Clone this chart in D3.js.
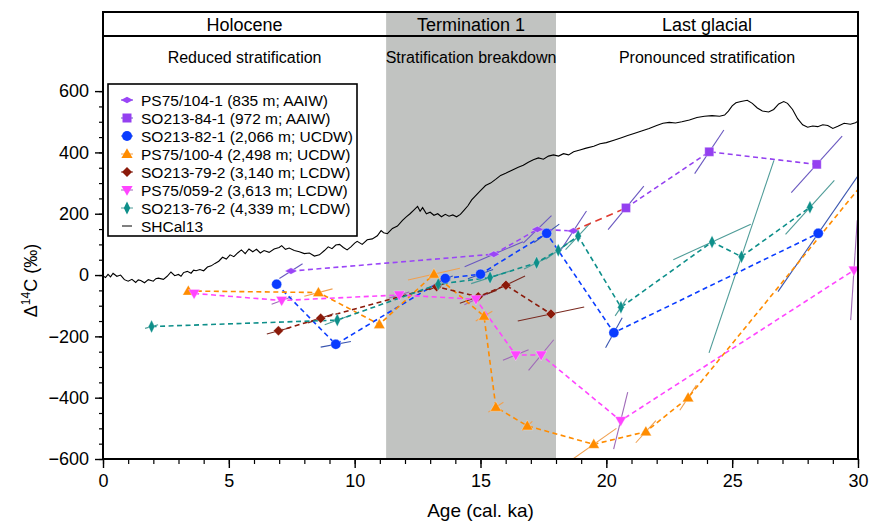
<!DOCTYPE html>
<html>
<head>
<meta charset="utf-8">
<script src="https://cdn.jsdelivr.net/npm/d3@7/dist/d3.min.js"></script>
<style>
  body { margin: 0; background: #fff; }
  text { font-family: "Liberation Sans", Arial, Helvetica, sans-serif; fill: #000; }
</style>
</head>
<body>
<svg id="chart" width="869" height="521"></svg>
<script>
// ---- data ----
var periodNames = ["Holocene", "Termination 1", "Last glacial"];
var periodBounds = [0, 11.25, 18, 30];
var regimeNames = ["Reduced stratification", "Stratification breakdown", "Pronounced stratification"];

var xTicks = [0, 5, 10, 15, 20, 25, 30];
var yTicks = [-600, -400, -200, 0, 200, 400, 600];

// PS75/104-1
var age104 = [7.47, 15.53, 17.26, 18.69];
var d104 = [13, 68, 149, 144];
var ea104 = [0.46, 1.16, 0.56, 0.52];
var ed104 = [24, 41, 45, 65];
// SO213-84-1
var age84 = [20.78, 24.09, 28.36];
var d84 = [219, 402, 361];
var ea84 = [0.71, 0.58, 1.01];
var ed84 = [71, 71, 92];
// SO213-82-1
var age82 = [6.9, 9.25, 13.6, 15.0, 17.63, 20.3, 28.42];
var d82 = [-30, -226, -11, 3, 136, -188, 136];
var ea82 = [0.1, 0.6, 0.3, 0.5, 0.5, 0.33, 1.6];
var ed82 = [5, 9, 8, 15, 30, 49, 190];
// PS75/100-4
var age1004 = [3.39, 8.56, 10.98, 13.15, 15.14, 15.61, 16.86, 19.5, 21.57, 23.25, 31.0];
var d1004 = [-52, -57, -161, 3, -134, -431, -492, -552, -511, -400, 380];
var ea1004 = [0.05, 0.56, 0.1, 1.03, 0.33, 0.3, 0.2, 0.9, 0.4, 0.33, 0.5];
var ed1004 = [3, 12, 5, 19, 16, 16, 15, 52, 36, 41, 40];
// SO213-79-2
var age792 = [6.97, 8.65, 13.26, 14.91, 16.01, 17.8];
var d792 = [-182, -141, -38, -71, -33, -127];
var ea792 = [0.46, 0.5, 0.3, 0.73, 0.76, 1.32];
var ed792 = [10, 15, 10, 21, 30, 23];
// PS75/059-2
var age059 = [3.62, 7.1, 11.77, 14.82, 16.4, 17.41, 20.57, 29.84];
var d059 = [-60, -83, -65, -79, -261, -261, -475, 16];
var ea059 = [0.1, 0.4, 0.4, 0.46, 0.51, 0.5, 0.28, 0.13];
var ed059 = [4, 12, 10, 18, 17, 50, 93, 163];
// SO213-76-2
var age762 = [1.93, 9.31, 13.32, 15.38, 17.23, 18.09, 18.88, 20.58, 24.2, 25.37, 28.09];
var d762 = [-168, -147, -30, -8, 40, 81, 127, -105, 108, 60, 221];
var ea762 = [0.26, 0.5, 0.5, 0.75, 0.5, 0.5, 0.5, 0.23, 1.54, 1.29, 0.97];
var ed762 = [6, 15, 15, 20, 20, 30, 44, 28, 58, 314, 88];

// SHCal13 atmosphere
var shAge = [0, 0.1, 0.2, 0.3, 0.4, 0.55, 0.7, 0.85, 1.0, 1.15, 1.3, 1.4, 1.5, 1.65, 1.8, 2.0, 2.1, 2.2, 2.4, 2.55, 2.7, 2.85,
  3.0, 3.1, 3.2, 3.35, 3.5, 3.6, 3.7, 3.85, 4.0, 4.15, 4.3, 4.45, 4.6, 4.75, 4.9, 5.05, 5.2, 5.35, 5.5, 5.65, 5.8,
  5.95, 6.1, 6.25, 6.4, 6.6, 6.8, 7.0, 7.1, 7.25, 7.4, 7.6, 7.8, 8.0, 8.2, 8.4, 8.6, 8.8, 8.95, 9.1,
  9.25, 9.4, 9.55, 9.7, 9.85, 10.0, 10.1, 10.3, 10.5, 10.7, 10.9, 11.05, 11.15, 11.3, 11.5, 11.7, 11.9,
  12.05, 12.2, 12.35, 12.5, 12.6, 12.7, 12.85, 13.0, 13.15, 13.3, 13.45, 13.6, 13.75, 13.9, 14.05, 14.2,
  14.35, 14.5, 14.65, 14.8, 15.0, 15.2, 15.4, 15.6, 15.8, 16.0, 16.25, 16.5, 16.7, 16.9, 17.1, 17.3,
  17.5, 17.7, 17.9, 18.1, 18.3, 18.5, 18.7, 18.95, 19.2, 19.5, 19.75, 20.0, 20.3, 20.6, 20.85, 21.1,
  21.4, 21.7, 22.0, 22.25, 22.5, 22.75, 23.0, 23.3, 23.6, 23.9, 24.2, 24.5, 24.7, 24.85, 25.0, 25.15,
  25.35, 25.6, 25.8, 26.0, 26.2, 26.45, 26.65, 26.85, 27.05, 27.2, 27.4, 27.6, 27.8, 28.0, 28.2, 28.4,
  28.6, 28.8, 29.0, 29.2, 29.45, 29.7, 29.9, 30.0];
var shD = [-3, -8, 2, -6, 6, -4, 0, -15, -20, -14, -24, -16, -18, -25, -15, -20, -12, -10, -14, -4, 10, -2,
  2, -4, 8, 12, 6, 16, 14, 18, 14, 26, 30, 38, 45, 58, 52, 66, 60, 72, 82, 70, 85,
  76, 84, 72, 80, 74, 85, 90, 96, 84, 88, 80, 76, 70, 72, 62, 66, 80, 92, 86,
  98, 100, 90, 82, 92, 104, 110, 100, 115, 118, 128, 145, 138, 135, 152, 160, 178,
  190, 200, 212, 224, 208, 220, 200, 205, 195, 200, 190, 198, 192, 196, 190, 198,
  212, 226, 245, 258, 275, 292, 300, 312, 325, 332, 342, 352, 358, 368, 376, 382,
  378, 388, 392, 388, 396, 392, 402, 408, 414, 420, 428, 432, 440, 448, 455, 462,
  470, 478, 488, 495, 498, 496, 500, 506, 514, 518, 520, 518, 522, 535, 552, 562,
  566, 570, 560, 545, 535, 532, 540, 558, 566, 560, 540, 510, 490, 482, 486, 484,
  490, 488, 478, 485, 495, 492, 497, 502];

var seriesNames = ["PS75/104-1 (835 m; AAIW)", "SO213-84-1 (972 m; AAIW)", "SO213-82-1 (2,066 m; UCDW)",
  "PS75/100-4 (2,498 m; UCDW)", "SO213-79-2 (3,140 m; LCDW)", "PS75/059-2 (3,613 m; LCDW)",
  "SO213-76-2 (4,339 m; LCDW)"];

// ---- styles ----
var colors = ["#9a45f7", "#9440f0", "#0a3cff", "#ff8c00", "#8b1a0a", "#ff45ff", "#0e8f8a"];
var errColors = ["#6a58c0", "#6a58c0", "#3a56b0", "#f0a050", "#7a2a20", "#a06ab8", "#4f9c98"];
var shapes = ["wdiamond", "square", "circle", "tri", "diamond", "tridown", "tdiamond"];

var series = [
  {a: age104, d: d104, ea: ea104, ed: ed104},
  {a: age84, d: d84, ea: ea84, ed: ed84},
  {a: age82, d: d82, ea: ea82, ed: ed82},
  {a: age1004, d: d1004, ea: ea1004, ed: ed1004},
  {a: age792, d: d792, ea: ea792, ed: ed792},
  {a: age059, d: d059, ea: ea059, ed: ed059},
  {a: age762, d: d762, ea: ea762, ed: ed762}
];

var svg = d3.select("#chart");
var L = 103, R = 858, T = 12, B = 459, headerY = 36;

var x = d3.scaleLinear().domain([0, 30]).range([L, R]);
var y = d3.scaleLinear().domain([-600, 858]).range([B, T]);

svg.append("defs").append("clipPath").attr("id", "plotclip")
  .append("rect").attr("x", L).attr("y", T).attr("width", R - L).attr("height", B - T);

// grey Termination band
svg.append("rect")
  .attr("x", x(periodBounds[1])).attr("y", T)
  .attr("width", x(periodBounds[2]) - x(periodBounds[1]))
  .attr("height", B - T)
  .attr("fill", "#c1c3c1");

var plot = svg.append("g").attr("clip-path", "url(#plotclip)");

// SHCal13
var line = d3.line().x(function(d){ return x(d[0]); }).y(function(d){ return y(d[1]); });
plot.append("path")
  .datum(d3.zip(shAge, shD))
  .attr("d", line)
  .attr("fill", "none")
  .attr("stroke", "#000")
  .attr("stroke-width", 1.1);

// error bars (calendar age uncertainty drawn as slanted lines)
series.forEach(function(s, k){
  s.a.forEach(function(a, i){
    plot.append("line")
      .attr("x1", x(a - s.ea[i])).attr("y1", y(s.d[i] - s.ed[i]))
      .attr("x2", x(a + s.ea[i])).attr("y2", y(s.d[i] + s.ed[i]))
      .attr("stroke", errColors[k])
      .attr("stroke-width", 1.1);
  });
});

// dashed connecting lines
series.forEach(function(s, k){
  plot.append("path")
    .datum(d3.zip(s.a, s.d))
    .attr("d", line)
    .attr("fill", "none")
    .attr("stroke", colors[k])
    .attr("stroke-width", 1.6)
    .attr("stroke-dasharray", "5,3.5");
});

// link between the two AAIW cores
plot.append("path")
  .datum([[age104[age104.length - 1], d104[d104.length - 1]], [age84[0], d84[0]]])
  .attr("d", line)
  .attr("fill", "none")
  .attr("stroke", "#e03a30")
  .attr("stroke-width", 1.6)
  .attr("stroke-dasharray", "7,5");

function markerPath(type){
  switch(type){
    case "wdiamond": return "M-6,0L0,-3.2L6,0L0,3.2Z";
    case "square": return "M-4.5,-4.5H4.5V4.5H-4.5Z";
    case "circle": return "M-5,0A5,5 0 1,0 5,0A5,5 0 1,0 -5,0Z";
    case "tri": return "M0,-5.8L5.6,4L-5.6,4Z";
    case "diamond": return "M-5,0L0,-5L5,0L0,5Z";
    case "tridown": return "M0,5.8L5.6,-4L-5.6,-4Z";
    case "tdiamond": return "M-3.2,0L0,-6.5L3.2,0L0,6.5Z";
  }
}

// markers
series.forEach(function(s, k){
  plot.selectAll(".m" + k)
    .data(d3.zip(s.a, s.d))
    .enter().append("path")
    .attr("class", "m" + k)
    .attr("d", markerPath(shapes[k]))
    .attr("transform", function(d){ return "translate(" + x(d[0]) + "," + y(d[1]) + ")"; })
    .attr("fill", colors[k])
    .attr("stroke", "rgba(255,255,255,0.5)")
    .attr("stroke-width", 0.6);
});

// axes
var yMinor = d3.range(-600, 601, 50);
var xMinor = d3.range(0, 31, 1);

svg.append("g").attr("transform", "translate(" + L + ",0)")
  .call(d3.axisLeft(y).tickValues(yMinor).tickSize(4).tickFormat(""))
  .call(function(g){ g.select(".domain").remove(); g.selectAll("line").attr("stroke-width", 1.2); });
var yAxis = svg.append("g").attr("transform", "translate(" + L + ",0)")
  .call(d3.axisLeft(y).tickValues(yTicks).tickSize(8).tickPadding(6));
yAxis.select(".domain").remove();
yAxis.selectAll("line").attr("stroke-width", 1.4);
yAxis.selectAll("text").attr("font-size", 18).style("font-family", "'Liberation Sans', Arial, sans-serif");

svg.append("g").attr("transform", "translate(0," + B + ")")
  .call(d3.axisBottom(x).tickValues(xMinor).tickSize(5).tickFormat(""))
  .call(function(g){ g.select(".domain").remove(); g.selectAll("line").attr("stroke-width", 1.2); });
var xAxis = svg.append("g").attr("transform", "translate(0," + B + ")")
  .call(d3.axisBottom(x).tickValues(xTicks).tickSize(9).tickPadding(6));
xAxis.select(".domain").remove();
xAxis.selectAll("line").attr("stroke-width", 1.4);
xAxis.selectAll("text").attr("font-size", 18).style("font-family", "'Liberation Sans', Arial, sans-serif");

// frame and header divider
svg.append("rect")
  .attr("x", L).attr("y", T).attr("width", R - L).attr("height", B - T)
  .attr("fill", "none").attr("stroke", "#000").attr("stroke-width", 2);
svg.append("line")
  .attr("x1", L).attr("x2", R).attr("y1", headerY).attr("y2", headerY)
  .attr("stroke", "#000").attr("stroke-width", 2);

// period and regime labels
periodNames.forEach(function(p, i){
  var cx = (x(periodBounds[i]) + x(periodBounds[i + 1])) / 2;
  svg.append("text").attr("x", cx).attr("y", 30.5)
    .attr("text-anchor", "middle").attr("font-size", 18).text(p);
  svg.append("text").attr("x", cx).attr("y", 62.5)
    .attr("text-anchor", "middle").attr("font-size", 16).text(regimeNames[i]);
});

// axis titles
svg.append("text")
  .attr("x", (L + R) / 2).attr("y", 517)
  .attr("text-anchor", "middle").attr("font-size", 19)
  .text("Age (cal. ka)");

var yl = svg.append("text")
  .attr("transform", "translate(37," + ((T + B) / 2 + 45) + ") rotate(-90)")
  .attr("text-anchor", "middle").attr("font-size", 18);
yl.append("tspan").text("\u0394");
yl.append("tspan").attr("dy", -7).attr("font-size", 12).text("14");
yl.append("tspan").attr("dy", 7).text("C (\u2030)");

// legend
var lg = svg.append("g").attr("transform", "translate(108,84)");
lg.append("rect").attr("width", 249).attr("height", 152)
  .attr("fill", "#fff").attr("stroke", "#000").attr("stroke-width", 1.6);
seriesNames.forEach(function(n, k){
  var ly = 16 + k * 18;
  lg.append("line").attr("x1", 13).attr("x2", 25).attr("y1", ly).attr("y2", ly)
    .attr("stroke", errColors[k]).attr("stroke-width", 1);
  lg.append("path").attr("d", markerPath(shapes[k]))
    .attr("transform", "translate(19," + ly + ")")
    .attr("fill", colors[k]);
  lg.append("text").attr("x", 33).attr("y", ly + 5.5)
    .attr("font-size", 15.5).text(n);
});
var ly8 = 16 + 7 * 18;
lg.append("line").attr("x1", 14).attr("x2", 24).attr("y1", ly8).attr("y2", ly8)
  .attr("stroke", "#000").attr("stroke-width", 1);
lg.append("text").attr("x", 33).attr("y", ly8 + 5.5).attr("font-size", 15.5).text("SHCal13");
</script>
</body>
</html>
